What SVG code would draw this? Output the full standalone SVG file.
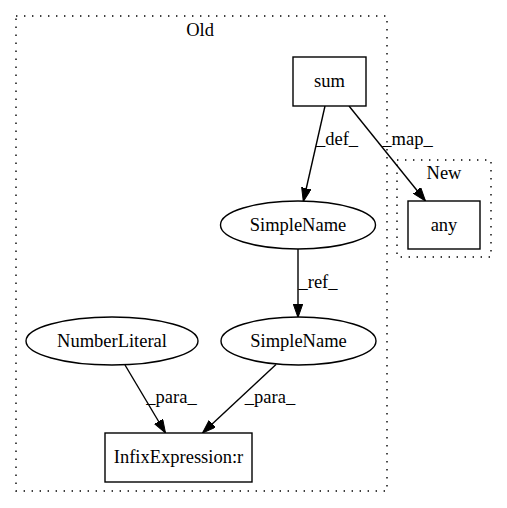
<svg xmlns="http://www.w3.org/2000/svg" width="507" height="508" viewBox="0 0 507 508">
<style>
text{font-family:"Liberation Serif","Times New Roman",serif;font-size:18.5px;fill:#000;text-anchor:middle}
.cl{fill:none;stroke:#000;stroke-width:1.4;stroke-dasharray:1.4,6.6}
.nd{fill:#fff;stroke:#000;stroke-width:1.4}
.ed{fill:none;stroke:#000;stroke-width:1.4}
</style>
<defs>
<marker id="ah" markerUnits="userSpaceOnUse" markerWidth="14" markerHeight="10" refX="13.5" refY="4.75" orient="auto">
<path d="M0,0 L13.5,4.75 L0,9.5 z" fill="#000" stroke="#000" stroke-width="1"/>
</marker>
</defs>
<rect width="507" height="508" fill="#fff"/>
<g id="cluster_old">
<rect class="cl" x="16" y="16" width="371" height="475"/>
<text x="200" y="36">Old</text>
</g>
<g id="cluster_new">
<rect class="cl" x="397" y="160" width="94" height="97"/>
<text x="444" y="179">New</text>
</g>
<g id="edges">
<path class="ed" d="M325,106 L303.3,201.5" marker-end="url(#ah)"/>
<text x="337" y="145">_def_</text>
<path class="ed" d="M349,106 L425.5,201" marker-end="url(#ah)"/>
<text x="407.5" y="145">_map_</text>
<path class="ed" d="M298,249 L298,317.5" marker-end="url(#ah)"/>
<text x="318" y="288">_ref_</text>
<path class="ed" d="M125,365 L165.5,433" marker-end="url(#ah)"/>
<text x="171.5" y="403">_para_</text>
<path class="ed" d="M276,364.5 L202.5,433" marker-end="url(#ah)"/>
<text x="270" y="403">_para_</text>
</g>
<g id="sum">
<rect class="nd" x="293" y="57" width="73" height="49"/>
<text x="329.5" y="87">sum</text>
</g>
<g id="any">
<rect class="nd" x="408" y="201" width="72" height="48"/>
<text x="444" y="231">any</text>
</g>
<g id="simplename1">
<ellipse class="nd" cx="298" cy="225" rx="77.5" ry="24"/>
<text x="298" y="231">SimpleName</text>
</g>
<g id="simplename2">
<ellipse class="nd" cx="298.5" cy="341" rx="77.5" ry="24"/>
<text x="298.5" y="347">SimpleName</text>
</g>
<g id="numberliteral">
<ellipse class="nd" cx="112" cy="341" rx="86" ry="24"/>
<text x="112" y="347">NumberLiteral</text>
</g>
<g id="infix">
<rect class="nd" x="105" y="433" width="147" height="49"/>
<text x="178.5" y="463">InfixExpression:r</text>
</g>
</svg>
